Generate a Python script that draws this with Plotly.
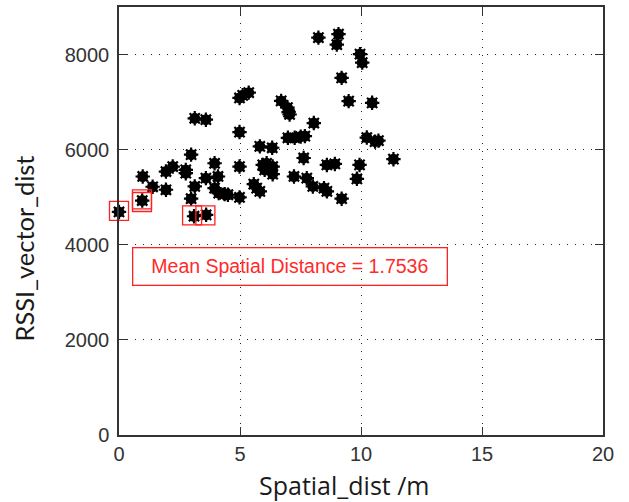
import plotly.graph_objects as go

# Scatter data: spatial distance (m) vs RSSI vector distance
spatial_dist = [0.0, 0.96, 0.98, 1.39, 1.94, 1.94, 2.22, 2.76, 2.76, 2.98,
                2.98, 3.13, 3.13, 3.10, 3.59, 3.59, 3.60, 3.95, 4.09, 3.95,
                4.12, 4.37, 4.50, 4.98, 5.11, 5.36, 4.98, 4.98, 4.98, 5.57,
                5.69, 5.82, 5.82, 5.94, 6.02, 6.10, 6.33, 6.35, 6.35, 6.70,
                6.96, 7.01, 7.05, 6.98, 7.26, 7.51, 7.68, 7.23, 7.63, 7.76,
                8.01, 8.05, 8.24, 8.47, 8.59, 8.59, 8.92, 9.00, 9.07, 9.20,
                9.20, 9.49, 9.83, 9.94, 9.96, 10.05, 10.24, 10.46, 10.58, 10.72,
                11.34]
rssi_dist = [4690, 4930, 5436, 5220, 5157, 5540, 5645, 5575, 5505, 5895,
             4969, 6660, 5226, 4600, 6630, 5401, 4630, 5714, 5436, 5192,
             5087, 5066, 5052, 7087, 7143, 7199, 6370, 5645, 4997, 5275,
             5192, 5122, 6070, 5679, 5575, 5714, 6040, 5645, 5484, 7025,
             6885, 6790, 6740, 6250, 6250, 6275, 6285, 5436, 5825, 5401,
             5226, 6560, 8355, 5192, 5122, 5679, 5700, 8210, 8430, 7510,
             4969, 7020, 5387, 5679, 8010, 7830, 6255, 6985, 6170, 6190,
             5800]

# Highlighted (boxed) points
box_x = [0.0, 0.95, 0.95, 3.02, 3.57]
box_y = [4715, 4955, 4900, 4620, 4620]

annotation_text = "Mean Spatial Distance = 1.7536"
x_title = "Spatial_dist /m"
y_title = "RSSI_vector_dist"

x_ticks = [0, 5, 10, 15, 20]
y_ticks = [0, 2000, 4000, 6000, 8000]

fig = go.Figure()

fig.add_trace(go.Scatter(
    x=spatial_dist, y=rssi_dist, mode="markers", cliponaxis=False,
    marker=dict(symbol="circle", size=11, color="black", line=dict(width=0)),
    hoverinfo="skip", showlegend=False))
fig.add_trace(go.Scatter(
    x=spatial_dist, y=rssi_dist, mode="markers", cliponaxis=False,
    marker=dict(symbol="asterisk-open", size=12, color="black",
                line=dict(width=2.2, color="black")),
    showlegend=False))
fig.add_trace(go.Scatter(
    x=box_x, y=box_y, mode="markers", cliponaxis=False,
    marker=dict(symbol="square-open", size=19, color="#ff2020",
                line=dict(width=1.3, color="#ff2020")),
    showlegend=False))

fig.add_annotation(
    x=7.08, y=3545, xref="x", yref="y", text=annotation_text,
    showarrow=False, font=dict(family="Liberation Sans, Arial", size=19.5, color="#ff2a2a"),
    bordercolor="#ff2020", borderwidth=1.3, borderpad=0,
    width=313, height=36, align="center", valign="middle")

# Axis titles (placed as in the reference)
fig.add_annotation(
    x=0.466, y=-0.116, xref="paper", yref="paper", text=x_title,
    showarrow=False, xanchor="center", yanchor="middle",
    font=dict(family="Open Sans, Noto Sans", size=25, color="#1a1a1a"))
fig.add_annotation(
    x=-0.196, y=0.436, xref="paper", yref="paper", text=y_title,
    showarrow=False, xanchor="center", yanchor="middle", textangle=-90,
    font=dict(family="Lato, Noto Sans", size=25.5, color="#1a1a1a"))

axis_common = dict(
    showline=True, linecolor="#333333", linewidth=1.5, mirror="ticks",
    ticks="inside", ticklen=8, tickwidth=1.3, tickcolor="#333333",
    showgrid=True, gridcolor="#222222", gridwidth=1, griddash="1px,7px",
    zeroline=False,
    tickfont=dict(family="Liberation Sans, Arial", size=20, color="#333333"),
)

fig.update_xaxes(
    range=[0, 20], tickvals=x_ticks, ticktext=[str(v) for v in x_ticks],
    **axis_common)
fig.update_yaxes(
    range=[0, 9000], tickvals=y_ticks, ticktext=[str(v) for v in y_ticks],
    ticklabelstandoff=4,
    **axis_common)

fig.update_layout(
    width=629, height=502,
    margin=dict(l=119, r=26, t=5, b=67),
    paper_bgcolor="white", plot_bgcolor="white",
)

fig.write_html("out.html")
